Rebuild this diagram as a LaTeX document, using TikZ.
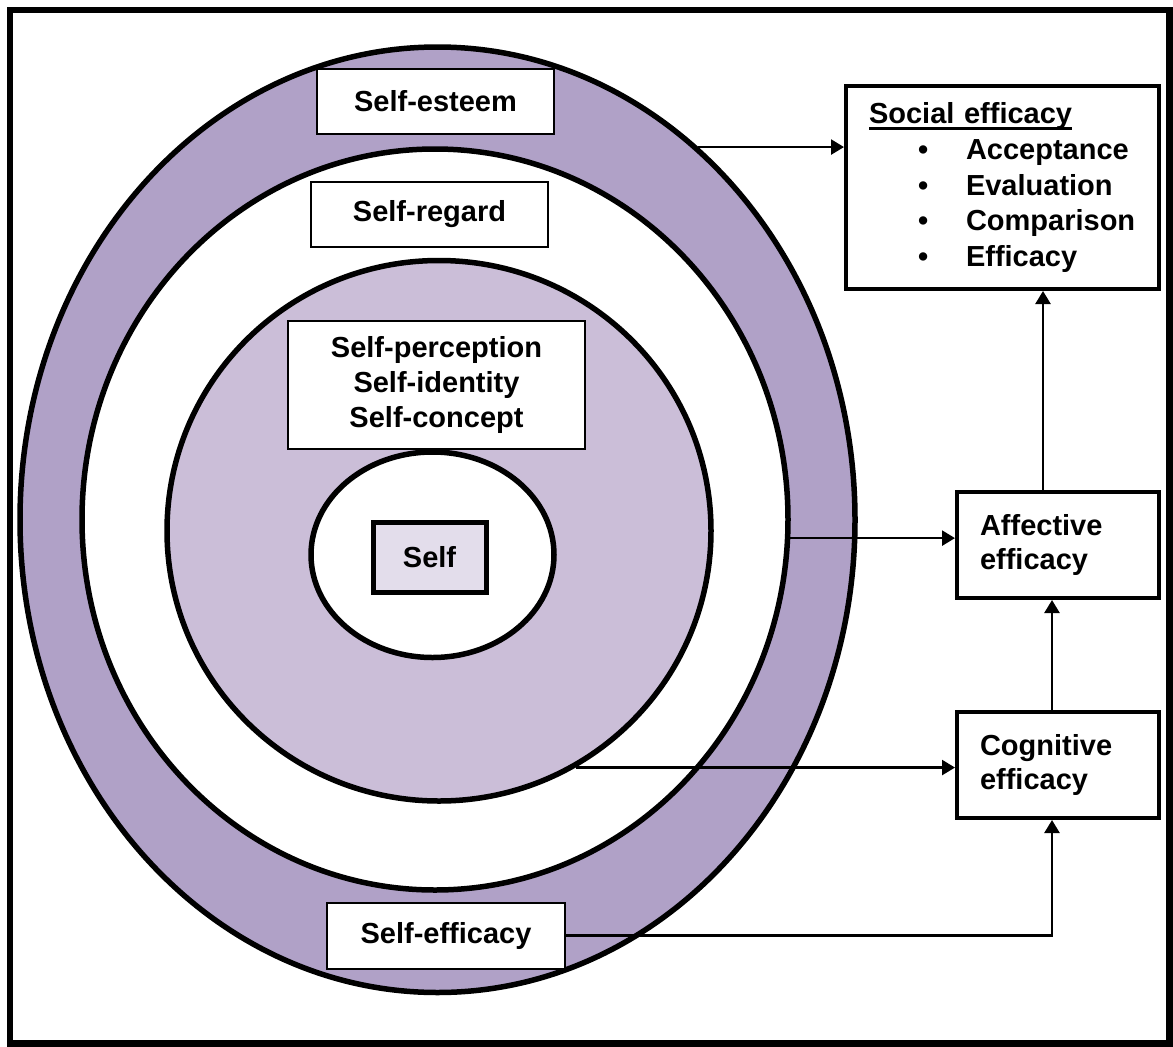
\documentclass[tikz,border=0pt]{standalone}
\usepackage{fontspec}
\setmainfont{Liberation Sans}
\usetikzlibrary{shapes.geometric,arrows.meta}
\definecolor{ringdark}{HTML}{B0A1C7}
\definecolor{ringlight}{HTML}{CBBED8}
\definecolor{selffill}{HTML}{E3DDEB}
\newcommand\ulined[1]{\setbox0=\hbox{#1}\rlap{\rule[-6pt]{\wd0}{2.5pt}}\box0}
\newcommand\bulletitem[1]{\makebox[97pt][l]{\hspace*{49pt}\textbullet}#1}
\begin{document}
\begin{tikzpicture}[x=1pt,y=-1pt,
  ring/.style={draw,ellipse,inner sep=0pt,line width=5.5pt},
  box/.style={draw,fill=white,line width=2pt,inner sep=0pt,align=center,font=\fontsize{29}{35}\selectfont\bfseries},
  effbox/.style={box,line width=4pt,align=left,inner xsep=23pt},
  >={Triangle[length=13pt,width=15pt]}]
\useasboundingbox (0,0) rectangle (1173,1047);
\draw[line width=6.5pt] (10,10) rectangle (1169.5,1043.5);

\node[ring,fill=ringdark,minimum width=835pt,minimum height=945.5pt] (esteemring) at (437.5,519.75) {};
\node[ring,fill=white,minimum width=706pt,minimum height=741pt] (regardring) at (435,519.5) {};
\node[ring,fill=ringlight,minimum width=544pt,minimum height=540.5pt] (conceptring) at (439,530.75) {};
\node[ring,fill=white,minimum width=243pt,minimum height=205.5pt] (selfring) at (432.5,554.75) {};

\node[box,minimum width=237pt,minimum height=65pt] (esteem) at (435.5,101.5) {Self-esteem};
\node[box,minimum width=237pt,minimum height=65pt] (regard) at (429.5,214.5) {Self-regard};
\node[box,minimum width=297pt,minimum height=128pt] (concept) at (436.5,385) {Self-perception\\Self-identity\\Self-concept};
\node[box,fill=selffill,line width=5pt,minimum width=113pt,minimum height=70pt] (self) at (429.5,557) {Self};
\node[box,minimum width=238pt,minimum height=66pt] (efficacy) at (446,935.5) {Self-efficacy};

\node[effbox,text width=267pt,minimum height=203pt,font=\fontsize{29}{35.7}\selectfont\bfseries] (social) at (1002.5,187.5)
  {\ulined{Social efficacy}\\\bulletitem{Acceptance}\\\bulletitem{Evaluation}\\\bulletitem{Comparison}\\\bulletitem{Efficacy}};
\node[effbox,text width=156pt,minimum height=106pt,font=\fontsize{29}{34}\selectfont\bfseries] (affective) at (1058,545) {Affective\\efficacy};
\node[effbox,text width=156pt,minimum height=106pt,font=\fontsize{29}{34}\selectfont\bfseries] (cognitive) at (1058,765) {Cognitive\\efficacy};

\path[draw,line width=2.5pt,->] (esteemring.55.8) -- (esteemring.55.8 -| social.west);
\path[draw,line width=2.5pt,->] (regardring.-3.3) -- (regardring.-3.3 -| affective.west);
\path[draw,line width=2.5pt,->] (conceptring.-60.8) -- (conceptring.-60.8 -| cognitive.west);
\path[draw,line width=2.5pt,->] (efficacy.east) -| ([xshift=-6pt]cognitive.south);
\path[draw,line width=2.5pt,->] ([xshift=-6pt]cognitive.north) -- ([xshift=-6pt]affective.south);
\path[draw,line width=2.5pt,->] ([xshift=-15pt]affective.north) -- ([xshift=-15pt]affective.north |- social.south);
\end{tikzpicture}
\end{document}
